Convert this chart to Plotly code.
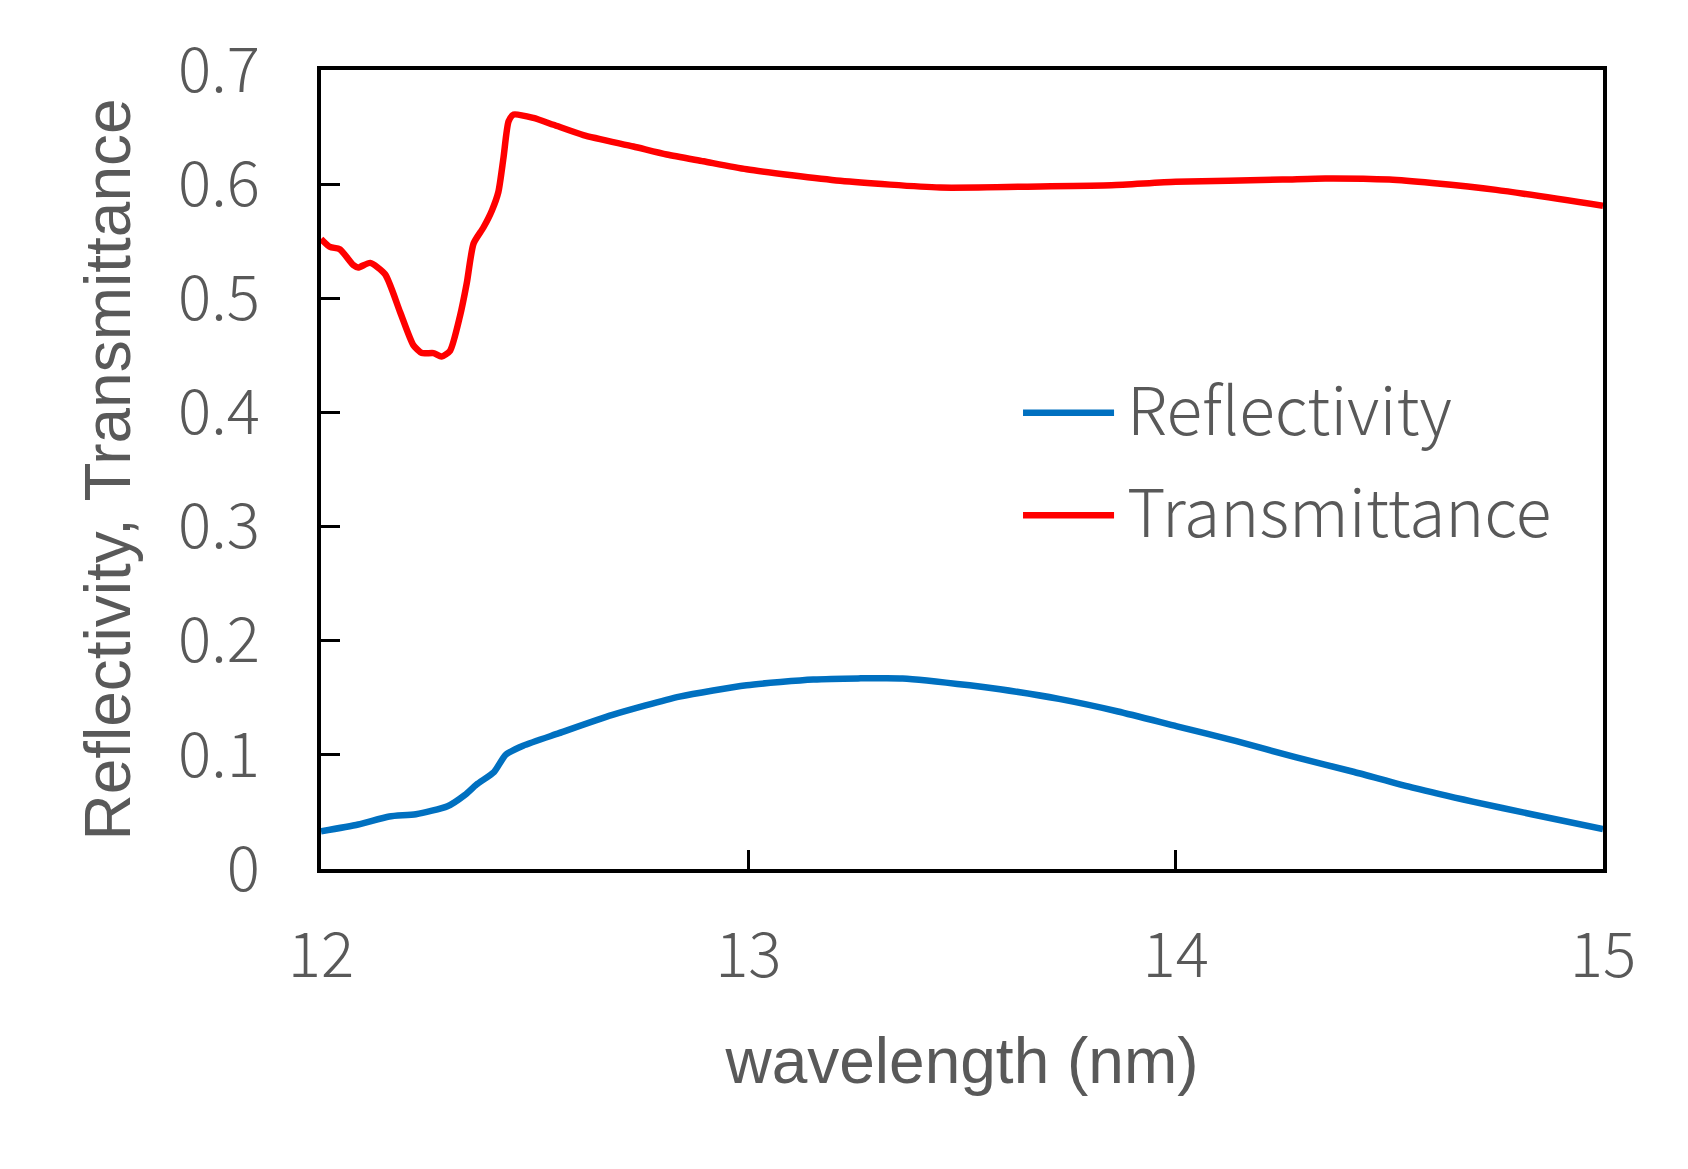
import plotly.graph_objects as go

# Transmittance (red)
t_x = [12.0, 12.021, 12.044, 12.076, 12.087, 12.115, 12.150, 12.185, 12.216, 12.236,
       12.263, 12.282, 12.302, 12.325, 12.341, 12.357, 12.380, 12.400, 12.415, 12.427,
       12.439, 12.451, 12.497, 12.544, 12.614, 12.731, 12.809, 12.895, 12.996, 13.215,
       13.449, 13.683, 13.85, 14.0, 14.25, 14.35, 14.5, 14.6, 14.75, 15.0]
t_y = [0.552, 0.545, 0.543, 0.529, 0.527, 0.531, 0.521, 0.488, 0.459, 0.452,
       0.452, 0.449, 0.454, 0.484, 0.513, 0.548, 0.562, 0.577, 0.593, 0.623,
       0.655, 0.661, 0.658, 0.652, 0.643, 0.633, 0.626, 0.620, 0.613, 0.603,
       0.597, 0.598, 0.599, 0.602, 0.604, 0.605, 0.604, 0.601, 0.595, 0.581]

# Reflectivity (blue)
r_x = [12.0, 12.087, 12.160, 12.222, 12.296, 12.337, 12.364, 12.405, 12.432, 12.473,
       12.557, 12.682, 12.839, 12.996, 13.152, 13.257, 13.361, 13.518, 13.589, 13.727,
       13.865, 14.003, 14.142, 14.280, 14.418, 14.557, 14.695, 14.833, 15.0]
r_y = [0.033, 0.039, 0.046, 0.048, 0.055, 0.065, 0.074, 0.085, 0.100, 0.108,
       0.119, 0.135, 0.151, 0.161, 0.166, 0.167, 0.167, 0.161, 0.1575, 0.149,
       0.138, 0.125, 0.112, 0.098, 0.085, 0.071, 0.059, 0.048, 0.035]

x_ticks = [12, 13, 14, 15]
y_ticks = [0, 0.1, 0.2, 0.3, 0.4, 0.5, 0.6, 0.7]
y_tick_text = ["0", "0.1", "0.2", "0.3", "0.4", "0.5", "0.6", "0.7"]

series_names = ["Reflectivity", "Transmittance"]
series_colors = ["#0070C0", "#FF0000"]

TEXT = "#595959"
JP_FONT = "Noto Sans CJK JP"
TITLE_FONT = "Liberation Sans, Arial"

fig = go.Figure()
fig.add_trace(go.Scatter(x=r_x, y=r_y, mode="lines", name=series_names[0],
                         line=dict(color=series_colors[0], width=6.5, shape="spline", smoothing=0.6)))
fig.add_trace(go.Scatter(x=t_x, y=t_y, mode="lines", name=series_names[1],
                         line=dict(color=series_colors[1], width=6.5, shape="spline", smoothing=0.6)))

# custom legend (long line samples)
leg_y = [0.5709, 0.4428]
for name, color, yy in zip(series_names, series_colors, leg_y):
    fig.add_shape(type="line", xref="paper", yref="paper", x0=0.5476, x1=0.6186,
                  y0=yy, y1=yy, line=dict(color=color, width=6.5))
    fig.add_annotation(xref="paper", yref="paper", x=0.6272, y=yy + 0.009, text=name,
                       showarrow=False, xanchor="left", yanchor="middle",
                       font=dict(family=JP_FONT, size=66, color=TEXT, weight=300))

fig.update_layout(
    width=1688, height=1169,
    margin=dict(l=313, r=93, t=57, b=308),
    paper_bgcolor="white", plot_bgcolor="white",
    showlegend=False,
    font=dict(family=JP_FONT, color=TEXT),
)
fig.update_xaxes(
    range=[12, 15], tickvals=x_ticks, ticktext=[str(v) for v in x_ticks],
    ticks="inside", ticklen=19, tickwidth=3, tickcolor="black",
    showline=True, linecolor="black", linewidth=3.5, mirror=True,
    showgrid=False, zeroline=False,
    tickfont=dict(family=JP_FONT, size=62, color=TEXT, weight=300),
    ticklabelstandoff=30,
    title=dict(text="wavelength (nm)", font=dict(family=TITLE_FONT, size=64, color=TEXT), standoff=45),
)
fig.update_yaxes(
    range=[0, 0.7], tickvals=y_ticks, ticktext=y_tick_text,
    ticks="inside", ticklen=19, tickwidth=3, tickcolor="black",
    showline=True, linecolor="black", linewidth=3.5, mirror=True,
    showgrid=False, zeroline=False,
    tickfont=dict(family=JP_FONT, size=62, color=TEXT, weight=300),
    ticklabelstandoff=45,
    title=dict(text="Reflectivity, Transmittance", font=dict(family=TITLE_FONT, size=64, color=TEXT), standoff=28),
)

fig.write_html("out.html")
